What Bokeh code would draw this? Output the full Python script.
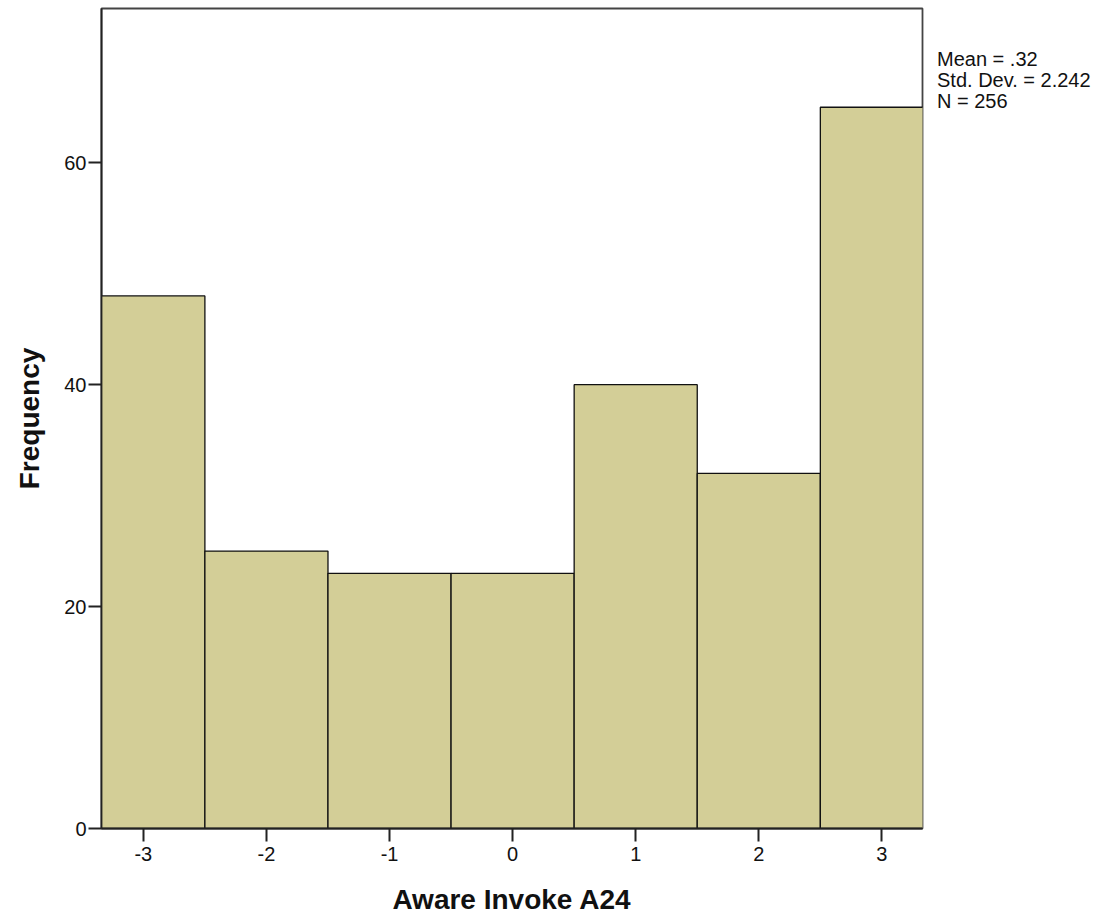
from bokeh.plotting import figure
from bokeh.models import Range1d, FixedTicker, ColumnDataSource, Div
from bokeh.layouts import row
from bokeh.embed import file_html
from bokeh.resources import INLINE

categories = [-3, -2, -1, 0, 1, 2, 3]
frequencies = [48, 25, 23, 23, 40, 32, 65]
y_ticks = [0, 20, 40, 60]
stats_lines = ["Mean = .32", "Std. Dev. = 2.242", "N = 256"]

FONT = "Liberation Sans"

src = ColumnDataSource(dict(
    left=[c - 0.5 for c in categories],
    right=[c + 0.5 for c in categories],
    top=frequencies,
    bottom=[0] * len(categories),
))

p = figure(width=930, height=917, output_backend="svg", toolbar_location=None,
           x_range=Range1d(-3.34, 3.33), y_range=Range1d(0, 73.9),
           min_border_left=101, min_border_right=8, min_border_top=8, min_border_bottom=89)

p.quad(left="left", right="right", top="top", bottom="bottom", source=src,
       fill_color="#D3CE97", line_color="#111111", line_width=1.3)

p.grid.visible = False
p.outline_line_color = "#444444"
p.outline_line_width = 1.8
p.background_fill_color = "white"
p.border_fill_color = "white"

p.xaxis.ticker = FixedTicker(ticks=categories)
p.yaxis.ticker = FixedTicker(ticks=y_ticks)
p.xaxis.major_label_overrides = {c: str(c) for c in categories}
for ax in (p.xaxis[0], p.yaxis[0]):
    ax.axis_line_color = "#222222"
    ax.axis_line_width = 1.8
    ax.major_tick_line_color = "#222222"
    ax.major_tick_line_width = 2
    ax.major_tick_in = 0
    ax.minor_tick_line_color = None
    ax.major_label_text_font = FONT
    ax.major_label_text_font_size = "20px"
    ax.major_label_text_color = "#111111"
    ax.axis_label_text_font = FONT
    ax.axis_label_text_font_size = "28px"
    ax.axis_label_text_font_style = "bold"
    ax.axis_label_text_color = "#111111"

p.xaxis.major_tick_out = 13
p.xaxis.major_label_standoff = 5
p.xaxis.axis_label = "Aware Invoke A24"
p.xaxis.axis_label_standoff = 20
p.yaxis.major_tick_out = 13
p.yaxis.major_label_standoff = 2
p.yaxis.axis_label = "Frequency"
p.yaxis.axis_label_standoff = 16

stats = Div(text="<br>".join(stats_lines), width=170, margin=(0, 0, 0, 0),
            styles={"font-family": FONT, "font-size": "20px", "line-height": "21px",
                    "color": "#111111", "padding-top": "49px", "padding-left": "7px",
                    "white-space": "nowrap"})

layout = row(p, stats, spacing=0)

open("out.html", "w").write(file_html(layout, INLINE))
